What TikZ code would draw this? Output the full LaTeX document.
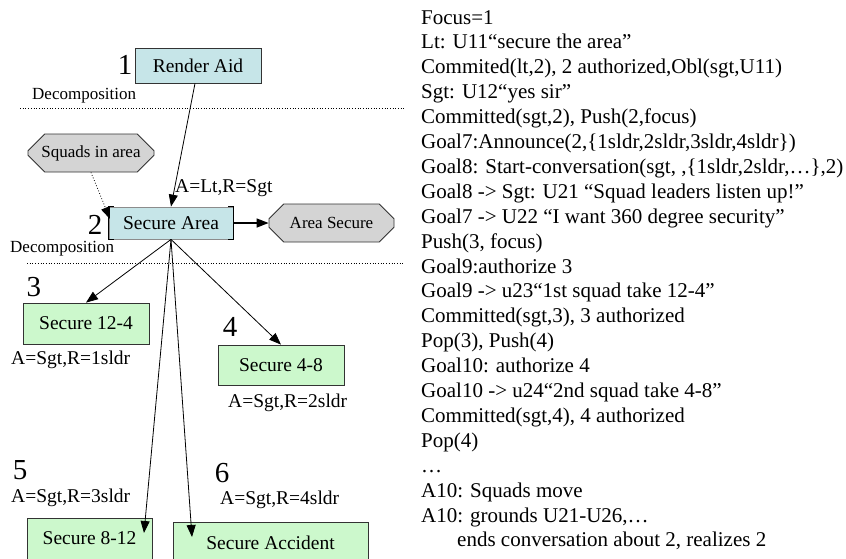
\documentclass[tikz,border=0pt]{standalone}
\usepackage{fontspec}
\setmainfont{Liberation Serif}
\usetikzlibrary{arrows.meta,shapes.misc}
\definecolor{pCyan}{HTML}{C6E5E8}
\definecolor{pGreen}{HTML}{CCF8CC}
\definecolor{pGray}{HTML}{D4D4D4}
\tikzset{
    task/.style={rectangle, draw=black!80, line width=0.8pt, inner sep=0pt, minimum width=126pt, minimum height=40pt, font=\fontsize{19.5}{22}\selectfont},
    aid/.style={task, fill=pCyan},
    sub/.style={task, fill=pGreen},
    cond/.style={chamfered rectangle, chamfered rectangle xsep=9pt, chamfered rectangle ysep=9pt, draw=black!80, line width=0.8pt, fill=pGray, inner sep=0pt, minimum width=126pt, minimum height=38pt, font=\fontsize{17}{20}\selectfont},
    num/.style={inner sep=0pt, font=\fontsize{29}{30}\selectfont},
    lbl/.style={anchor=west, inner sep=0pt, font=\fontsize{19.5}{22}\selectfont},
    sep/.style={dotted, line width=0.7pt},
    arr/.style={-{Triangle[length=12pt,width=9pt]}, line width=0.8pt}
}
\begin{document}
\begin{tikzpicture}[x=1pt,y=-1pt]
\useasboundingbox (0,0) rectangle (846,558);
% top level
\node[aid,minimum height=35pt] (render) at (198,65.5) {Render Aid};
\node[num] (n1) at (125,65) {1};
\node[lbl,font=\fontsize{17}{20}\selectfont] (dec1) at (32,96) {Decomposition};
\draw[sep] (20,108)--(404,108);
% second level
\node[cond] (squads) at (91,153) {Squads in area};
\node[aid,draw=black!45,minimum width=124pt,minimum height=32pt] (secarea) at (171,223) {Secure Area};
\draw[line width=1pt] ([xshift=5pt]secarea.north west) -| (secarea.south west) -- ++(5,0);
\draw[line width=1pt] ([xshift=-5pt]secarea.north east) -| (secarea.south east) -- ++(-5,0);
\node[num] (n2) at (95,225) {2};
\node[cond,minimum width=125pt] (areasec) at (331.5,223) {Area Secure};
\node[lbl] (lt) at (175,188) {A=Lt,R=Sgt};
\node[lbl,font=\fontsize{17}{20}\selectfont] (dec2) at (10,249) {Decomposition};
\draw[sep] (27,263)--(404,263);
% third level
\node[sub,minimum height=41pt] (s124) at (86,323.5) {Secure 12-4};
\node[sub] (s48) at (281,365) {Secure 4-8};
\node[sub,minimum width=125pt,minimum height=41pt] (s812) at (89.5,538.5) {Secure 8-12};
\node[sub,minimum width=195pt,minimum height=41pt] (sacc) at (270.5,542.5) {Secure Accident};
\node[num] (n3) at (34,287) {3};
\node[num] (n4) at (230,327) {4};
\node[num] (n5) at (20,470) {5};
\node[num] (n6) at (222,473) {6};
\node[lbl] (r1) at (11,360) {A=Sgt,R=1sldr};
\node[lbl] (r2) at (228,403) {A=Sgt,R=2sldr};
\node[lbl] (r3) at (11,498) {A=Sgt,R=3sldr};
\node[lbl] (r4) at (220,500) {A=Sgt,R=4sldr};
\coordinate (in2) at (110,219);
\coordinate (in5) at (144,533);
\coordinate (in6) at (192,537);
% connectors
\draw[arr] ([xshift=-3pt]render.south) -- (secarea.north);
\draw[arr,dotted] (squads.south) -- (in2);
\draw[arr,line width=1.4pt] (secarea.east) -- (areasec.west);
\draw[arr] (secarea.south) -- (s124.north);
\draw[arr] (secarea.south) -- (s48.north);
\draw[arr] (secarea.south) -- (in5);
\draw[arr] (secarea.south) -- (in6);
% dialogue
\node[anchor=north west,inner sep=0pt,align=left,font=\fontsize{21}{24.9}\selectfont] (log) at (421,10) {%
Focus=1\\
Lt: U11“secure the area”\\
Commited(lt,2), 2 authorized,Obl(sgt,U11)\\
Sgt: U12“yes sir”\\
Committed(sgt,2), Push(2,focus)\\
Goal7:Announce(2,\{1sldr,2sldr,3sldr,4sldr\})\\
Goal8: Start-conversation(sgt, ,\{1sldr,2sldr,…\},2)\\
Goal8 -> Sgt: U21 “Squad leaders listen up!”\\
Goal7 -> U22 “I want 360 degree security”\\
Push(3, focus)\\
Goal9:authorize 3\\
Goal9 -> u23“1st squad take 12-4”\\
Committed(sgt,3), 3 authorized\\
Pop(3), Push(4)\\
Goal10: authorize 4\\
Goal10 -> u24“2nd squad take 4-8”\\
Committed(sgt,4), 4 authorized\\
Pop(4)\\
…\\
A10: Squads move\\
A10: grounds U21-U26,…\\
\hspace*{36pt}ends conversation about 2, realizes 2};
\end{tikzpicture}
\end{document}
